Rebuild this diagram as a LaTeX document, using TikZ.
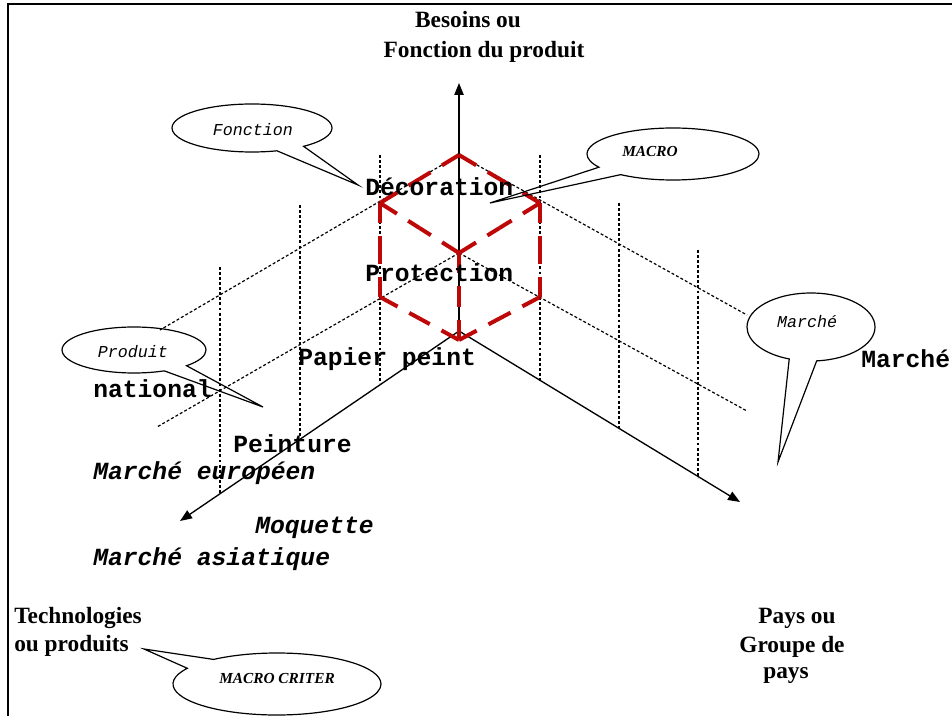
\documentclass[tikz,border=0pt]{standalone}
\usepackage{fontspec}
\setmainfont{Liberation Serif}
\newfontfamily\monofam{Liberation Mono}
\usetikzlibrary{arrows.meta,shapes.callouts,calc}

\definecolor{cubered}{RGB}{190,8,8}

\begin{document}
\begin{tikzpicture}[x=0.75pt,y=-0.75pt,
  axis/.style={line width=1pt,-{Triangle[length=9pt,width=7pt]}},
  gridline/.style={line width=0.9pt,dash pattern=on 2.2pt off 1.6pt},
  cubeedge/.style={cubered,line width=3pt,dash pattern=on 15pt off 10pt},
  bubble/.style={ellipse callout,draw,line width=0.9pt,inner sep=0pt,callout pointer arc=22},
  bubtext/.style={font=\monofam\itshape\fontsize{12.5}{14}\selectfont},
  captext/.style={font=\bfseries\itshape\fontsize{11.5}{13}\selectfont},
  item/.style={anchor=base west,inner sep=0pt,font=\monofam\bfseries\fontsize{18.5}{20}\selectfont},
  itemit/.style={item,font=\monofam\bfseries\itshape\fontsize{18.5}{20}\selectfont},
  axlabel/.style={anchor=base,inner sep=0pt,font=\bfseries\fontsize{17.5}{20}\selectfont},
]
\useasboundingbox (0,0) rectangle (952,716);

% frame
\coordinate (fBL) at (8,716);
\coordinate (fTL) at (8,4);
\coordinate (fTR) at (952,4);
\draw[line width=1.5pt] (fBL) -- (fTL) -- (fTR);

% axes
\coordinate (O) at (459,331);
\coordinate (axUp) at (459,83);
\coordinate (axLeft) at (180,521);
\coordinate (axRight) at (740,502);
\draw[axis] (O) -- (axUp);
\draw[axis] (O) -- (axLeft);
\draw[axis] (O) -- (axRight);

% cube vertices
\coordinate (cT) at (459,155);
\coordinate (cUL) at (380,203);
\coordinate (cLL) at (380,297);
\coordinate (cB) at (459,340);
\coordinate (cLR) at (540,297);
\coordinate (cUR) at (540,203);
\coordinate (cC) at (459,253);

% vertical grid lines
\foreach \n/\x/\ya/\yb in {g1/220/267/493, g2/300/205/437, g3/380/155/383,
                           g4/540/155/382, g5/619/203/431, g6/698/250/478} {
  \coordinate (\n a) at (\x,\ya);
  \coordinate (\n b) at (\x,\yb);
  \draw[gridline] (\n a) -- (\n b);
}
% oblique grid lines
\coordinate (dUL) at (160,330);
\coordinate (dLL) at (157,427);
\coordinate (dUR) at (747,315);
\coordinate (dLR) at (747,411);
\draw[gridline] (cT) -- (dUL);
\draw[gridline] (cC) -- (dLL);
\draw[gridline] (cT) -- (dUR);
\draw[gridline] (cC) -- (dLR);

% dashed cube: each edge is dashed from both of its ends towards its middle
\foreach \a/\b in {cT/cUL, cUL/cLL, cLL/cB, cLR/cB, cUR/cLR, cT/cUR, cUL/cC, cUR/cC, cC/cB} {
  \draw[cubeedge] (\a) -- ($(\a)!0.5!(\b)$);
  \draw[cubeedge] (\b) -- ($(\a)!0.5!(\b)$);
}

% texts along the axes
\node[item] (deco) at (365,196) {Décoration};
\node[item] (prot) at (365,282) {Protection};
\node[item] (papier) at (298,365) {Papier peint};
\node[item] (natio) at (93,397) {national};
\node[item] (peint) at (233,452) {Peinture};
\node[itemit] (meuro) at (93,479) {Marché européen};
\node[itemit] (moq) at (255,533) {Moquette};
\node[itemit] (masia) at (93,565) {Marché asiatique};
\node[item] (mright) at (861,367) {Marché};

% axis titles
\node[axlabel] (bes1) at (468,28) {Besoins ou};
\node[axlabel] (bes2) at (484,58) {Fonction du produit};
\node[axlabel,anchor=base west] (tec1) at (14,623) {Technologies};
\node[axlabel,anchor=base west] (tec2) at (14,651) {ou produits};
\node[axlabel] (pay1) at (797,623) {Pays ou};
\node[axlabel] (pay2) at (792,652) {Groupe de};
\node[axlabel] (pay3) at (786,678) {pays};

% callouts
\coordinate (tipF) at (358,185);
\coordinate (tipM) at (490,203);
\coordinate (tipP) at (263,407);
\coordinate (tipR) at (778,462);
\coordinate (tipC) at (144,649);
\node[bubble,minimum width=120pt,minimum height=36pt,callout absolute pointer={(tipF)}] (bF) at (252,128) {};
\node[bubble,minimum width=129pt,minimum height=39pt,callout absolute pointer={(tipM)}] (bM) at (673,154) {};
\node[bubble,minimum width=108pt,minimum height=34.5pt,callout absolute pointer={(tipP)}] (bP) at (134,350) {};
\node[bubble,minimum width=96pt,minimum height=51pt,callout pointer arc=25,callout absolute pointer={(tipR)}] (bR) at (811,327) {};
\node[bubble,minimum width=156pt,minimum height=46.5pt,callout absolute pointer={(tipC)}] (bC) at (277,684) {};

\node[bubtext] (tF) at (253,130) {Fonction};
\node[captext] (tM) at (650,152) {MACRO};
\node[bubtext] (tP) at (133,352) {Produit};
\node[bubtext] (tR) at (807,322) {Marché};
\node[captext] (tC) at (277,678) {MACRO CRITER};
\end{tikzpicture}
\end{document}
